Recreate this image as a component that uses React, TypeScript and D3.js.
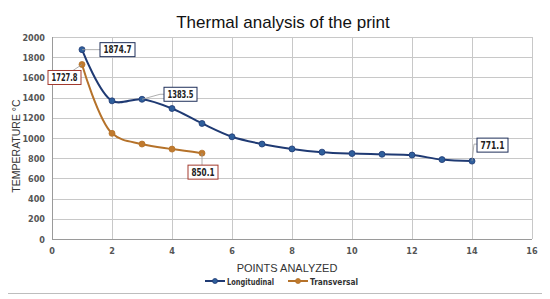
import React, { useEffect, useRef } from "react";
import * as d3 from "d3";

// data
const longX = [1, 2, 3, 4, 5, 6, 7, 8, 9, 10, 11, 12, 13, 14];
const longY = [1874.7, 1368, 1383.5, 1292, 1144, 1012, 940, 892, 860, 846, 839, 831, 786, 771.1];
const transX = [1, 2, 3, 4, 5];
const transY = [1727.8, 1046, 940, 890, 850.1];

const xTicks = [0, 2, 4, 6, 8, 10, 12, 14, 16];
const yTicks = [0, 200, 400, 600, 800, 1000, 1200, 1400, 1600, 1800, 2000];

// labelled points: series, index, box offset from the point, box width, leader end
const callouts = [
  { s: "long", i: 0, dx: 18, dy: -7, w: 35, lead: "left" },
  { s: "trans", i: 0, dx: -34, dy: 6, w: 33, lead: "topright" },
  { s: "long", i: 2, dx: 22, dy: -12, w: 33, lead: "left" },
  { s: "trans", i: 4, dx: -14, dy: 12, w: 30, lead: "top" },
  { s: "long", i: 13, dx: 5, dy: -23, w: 31, lead: "elbow" },
];

const LONG_COLOR = "#1f3a73";
const LONG_MARK = "#2f5f9c";
const TRANS_COLOR = "#b5722a";
const TRANS_MARK = "#c07a2e";

const App = () => {
  const svgRef = useRef<SVGSVGElement>(null);

  useEffect(() => {
    const width = 550;
    const height = 299;
    const margin = { top: 37, left: 52 };

    const svg = d3.select(svgRef.current);
    svg.selectAll("*").remove();
    svg.attr("width", width).attr("height", height);

    svg.append("rect")
      .attr("x", 0).attr("y", 0).attr("width", width).attr("height", height)
      .attr("fill", "#fff");
    svg.append("rect")
      .attr("x", 4.5).attr("y", 4.5).attr("width", 541).attr("height", 289)
      .attr("fill", "none").attr("stroke", "#bdbdbd");

    const x = d3.scaleLinear().domain([0, 16]).range([margin.left, 532]);
    const y = d3.scaleLinear().domain([0, 2000]).range([239, margin.top]);

    // grid
    const g = svg.append("g");
    g.selectAll("line.h").data(yTicks).enter().append("line")
      .attr("x1", x(0)).attr("x2", x(16))
      .attr("y1", (d) => Math.round(y(d)) + 0.5).attr("y2", (d) => Math.round(y(d)) + 0.5)
      .attr("stroke", (d) => (d === 0 ? "#9a9a9a" : "#c8c8c8"));
    g.selectAll("line.v").data(xTicks).enter().append("line")
      .attr("y1", y(0)).attr("y2", y(2000))
      .attr("x1", (d) => Math.round(x(d)) + 0.5).attr("x2", (d) => Math.round(x(d)) + 0.5)
      .attr("stroke", (d) => (d === 0 ? "#9a9a9a" : "#c8c8c8"));

    const tickFont = "'DejaVu Sans Condensed', sans-serif";
    g.selectAll("text.yt").data(yTicks).enter().append("text")
      .attr("x", 45).attr("y", (d) => y(d) + 3.5)
      .attr("text-anchor", "end").attr("font-size", 9).attr("font-weight", "bold")
      .attr("font-family", tickFont).attr("fill", "#555")
      .text((d) => d);
    g.selectAll("text.xt").data(xTicks).enter().append("text")
      .attr("x", (d) => x(d)).attr("y", 254)
      .attr("text-anchor", "middle").attr("font-size", 9).attr("font-weight", "bold")
      .attr("font-family", tickFont).attr("fill", "#555")
      .text((d) => d);

    // titles
    svg.append("text")
      .attr("x", 283).attr("y", 28).attr("text-anchor", "middle")
      .attr("font-family", "'Liberation Sans', Arial, sans-serif").attr("font-size", 17)
      .attr("fill", "#111").text("Thermal analysis of the print");
    svg.append("text")
      .attr("x", 287).attr("y", 272).attr("text-anchor", "middle")
      .attr("font-family", "'Liberation Sans', Arial, sans-serif").attr("font-size", 11)
      .attr("fill", "#333").text("POINTS ANALYZED");
    svg.append("text")
      .attr("transform", "translate(20,146) rotate(-90)").attr("text-anchor", "middle")
      .attr("font-family", "'Liberation Sans', Arial, sans-serif").attr("font-size", 10.5)
      .attr("fill", "#333").text("TEMPERATURE  °C");

    // series
    const line = d3.line<[number, number]>()
      .x((d) => x(d[0])).y((d) => y(d[1]))
      .curve(d3.curveCatmullRom.alpha(0.5));

    const longPts: [number, number][] = longX.map((v, i) => [v, longY[i]]);
    const transPts: [number, number][] = transX.map((v, i) => [v, transY[i]]);

    const drawSeries = (pts: [number, number][], c: string, m: string) => {
      svg.append("path").datum(pts).attr("d", line)
        .attr("fill", "none").attr("stroke", c).attr("stroke-width", 2);
      svg.append("g").selectAll("circle").data(pts).enter().append("circle")
        .attr("cx", (d) => x(d[0])).attr("cy", (d) => y(d[1])).attr("r", 3)
        .attr("fill", m).attr("stroke", c).attr("stroke-width", 0.8);
    };
    drawSeries(transPts, TRANS_COLOR, TRANS_MARK);
    drawSeries(longPts, LONG_COLOR, LONG_MARK);

    // callouts
    const labelFont = "'DejaVu Sans Condensed', sans-serif";
    callouts.forEach((c) => {
      const isLong = c.s === "long";
      const px = x(isLong ? longX[c.i] : transX[c.i]);
      const py = y(isLong ? longY[c.i] : transY[c.i]);
      const val = isLong ? longY[c.i] : transY[c.i];
      const txt = d3.format(".1f")(val);
      const w = c.w;
      const h = 14;
      const bx = px + c.dx;
      const by = py + c.dy;
      const border = isLong ? "#1f2f5a" : "#a33a2e";

      let pts: [number, number][];
      if (c.lead === "left") pts = [[px, py], [bx - 4, by + h / 2], [bx, by + h / 2]];
      else if (c.lead === "topright") pts = [[px, py], [bx + w - 8, by]];
      else if (c.lead === "top") pts = [[px, py], [px, by]];
      else pts = [[px, py], [px + 2, by + 6], [bx, by + 6]];
      svg.append("path")
        .attr("d", d3.line()(pts))
        .attr("fill", "none").attr("stroke", "#9a9a9a").attr("stroke-width", 0.8);

      svg.append("rect")
        .attr("x", bx).attr("y", by).attr("width", w).attr("height", h)
        .attr("fill", "#fff").attr("stroke", border).attr("stroke-width", 1);
      svg.append("text")
        .attr("x", bx + w / 2).attr("y", by + 10.6).attr("text-anchor", "middle")
        .attr("font-family", labelFont).attr("font-weight", "bold").attr("font-size", 10)
        .attr("textLength", w - 7).attr("lengthAdjust", "spacingAndGlyphs")
        .attr("fill", "#222").text(txt);
    });

    // legend
    const legend = [
      { name: "Longitudinal", c: LONG_COLOR, m: LONG_MARK, x0: 205, tw: 47 },
      { name: "Transversal", c: TRANS_COLOR, m: TRANS_MARK, x0: 288, tw: 48 },
    ];
    legend.forEach((l) => {
      svg.append("line").attr("x1", l.x0).attr("x2", l.x0 + 20)
        .attr("y1", 281).attr("y2", 281).attr("stroke", l.c).attr("stroke-width", 2);
      svg.append("circle").attr("cx", l.x0 + 10).attr("cy", 281).attr("r", 2.5)
        .attr("fill", l.m).attr("stroke", l.c).attr("stroke-width", 0.8);
      svg.append("text").attr("x", l.x0 + 22).attr("y", 284.5)
        .attr("font-family", labelFont).attr("font-weight", "bold").attr("font-size", 9.5)
        .attr("textLength", l.tw).attr("lengthAdjust", "spacingAndGlyphs")
        .attr("fill", "#333").text(l.name);
    });
  }, []);

  return (
    <div style={{ margin: -8 }}>
      <svg ref={svgRef}></svg>
    </div>
  );
};

export default App;
